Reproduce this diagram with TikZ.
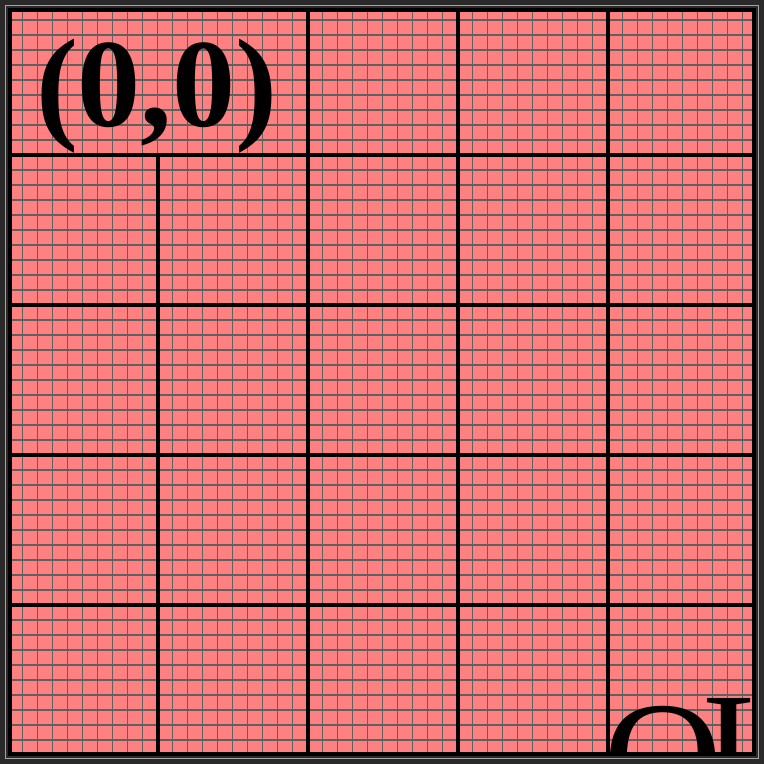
\documentclass[tikz,border=0pt]{standalone}
\usepackage{fontspec}
\setmainfont{Liberation Serif}
\definecolor{bgdark}{RGB}{42,42,42}
\definecolor{rimgray}{RGB}{165,165,165}
\definecolor{sheet}{RGB}{255,128,128}
\definecolor{fine}{RGB}{96,96,96}
\begin{document}
\begin{tikzpicture}[x=1pt,y=-1pt,
  fineline/.style={draw=fine,line width=1.15pt},
  thickline/.style={draw=black,line width=4pt},
  bigtext/.style={inner sep=0pt,outer sep=0pt,font=\fontsize{126}{126}\selectfont\bfseries},
  cornertext/.style={inner sep=0pt,outer sep=0pt,font=\fontsize{165}{165}\selectfont}]
\useasboundingbox (0,0) rectangle (764,764);
\fill[bgdark] (0,0) rectangle (764,764);
\draw[rimgray,line width=1.3pt] (5.6,5.6) rectangle (758.4,758.4);
\begin{scope}
  \clip (10,10) rectangle (754,754);
  \fill[sheet] (10,10) rectangle (754,754);
  \foreach \i in {0,...,50} {
    \draw[fineline] (7.5+15*\i,0) -- (7.5+15*\i,764);
    \draw[fineline] (0,5+15*\i) -- (764,5+15*\i);
  }
  \foreach \y in {155,305,455,605} {
    \draw[thickline] (0,\y) -- (764,\y);
  }
  \foreach \x in {307.5,457.5,607.5} {
    \draw[thickline] (\x,0) -- (\x,764);
  }
  \draw[thickline] (157.5,155) -- (157.5,764);
  \node[bigtext,anchor=base west] (origin) at (36,126) {(0,0)};
  \node[cornertext,anchor=base west] (corner) at (603,815) {O\kern-21pt\raisebox{8.3pt}{I}};
\end{scope}
\draw[black,line width=4pt] (10,10) rectangle (754,754);
\end{tikzpicture}
\end{document}
